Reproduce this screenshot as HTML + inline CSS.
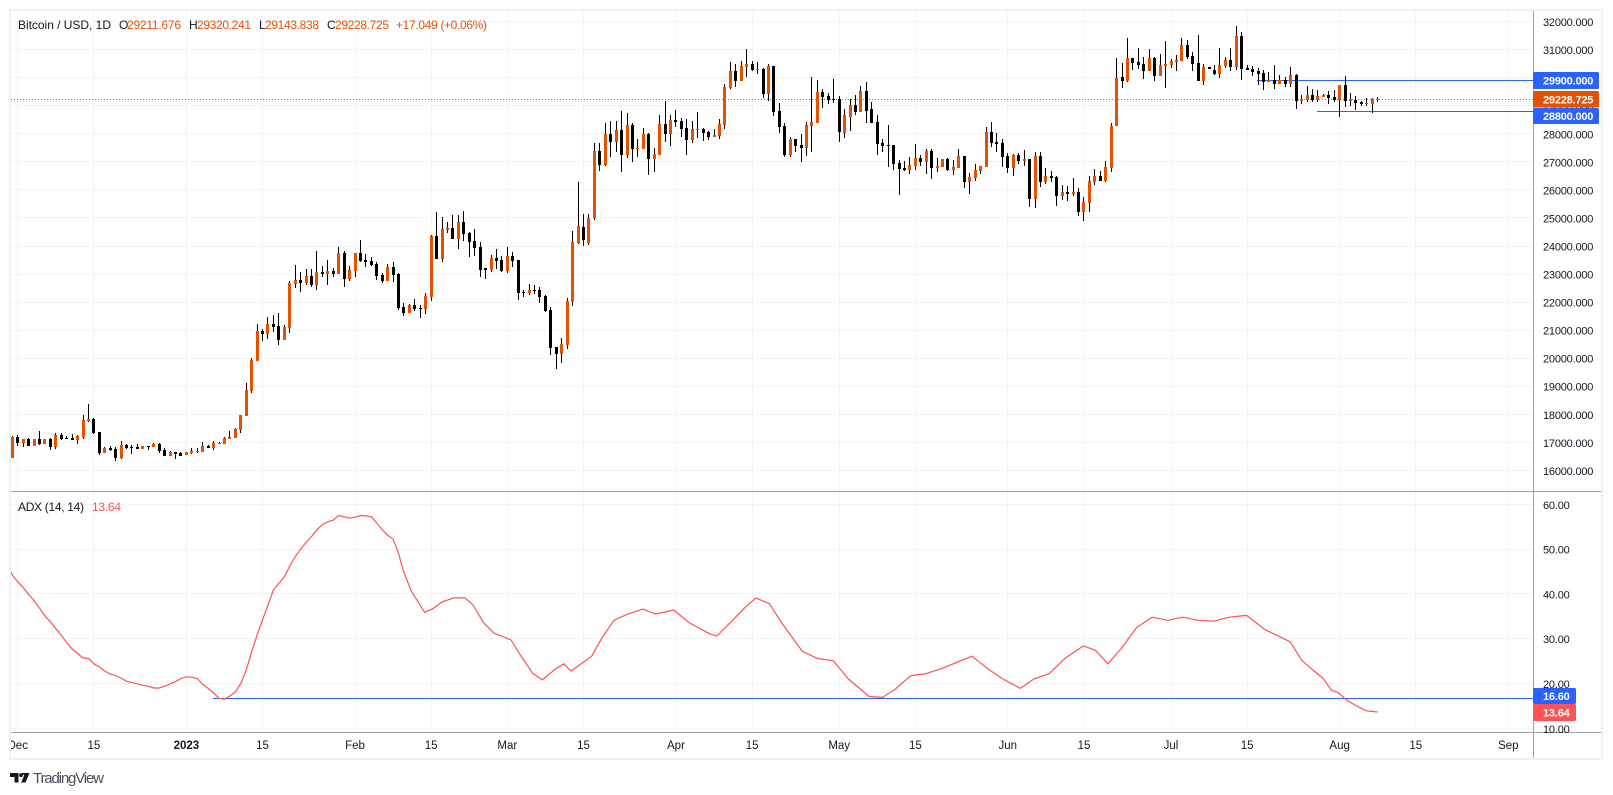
<!DOCTYPE html>
<html lang="en">
<head>
<meta charset="utf-8">
<title>Bitcoin / USD, 1D</title>
<style>
html,body{margin:0;padding:0;background:#fff;width:1613px;height:795px;overflow:hidden}
svg{display:block;font-family:"Liberation Sans",sans-serif}
</style>
</head>
<body>
<svg id="chart" width="1613" height="795" viewBox="0 0 1613 795" xmlns="http://www.w3.org/2000/svg">
  <defs>
    <clipPath id="plot-clip"><rect x="11" y="11" width="1522" height="480"></rect></clipPath>
    <clipPath id="adx-clip"><rect x="11" y="492" width="1522" height="240"></rect></clipPath>
    <clipPath id="time-clip"><rect x="11" y="733" width="1522" height="25"></rect></clipPath>
  </defs>
  <g id="grid"></g>
  <line id="last-line" x1="11" x2="1533" stroke="#e65100" stroke-width="1" stroke-dasharray="1 2"></line>
  <g id="levels"></g>
  <g id="candles" clip-path="url(#plot-clip)" shape-rendering="crispEdges"></g>
  <polyline id="adx-line" fill="none" stroke="#ff5252" stroke-width="1.2" stroke-linejoin="round" clip-path="url(#adx-clip)"></polyline>
  <g id="frame" shape-rendering="crispEdges">
    <rect x="9" y="9" width="1594" height="2" fill="#f0f1f6"></rect>
    <rect x="9" y="9" width="2" height="751" fill="#f0f1f6"></rect>
    <rect x="1601" y="9" width="2" height="751" fill="#f0f1f6"></rect>
    <rect x="9" y="758" width="1594" height="2" fill="#f0f1f6"></rect>
    <rect x="11" y="491" width="1590" height="1" fill="#a2a2a8"></rect>
    <rect x="11" y="732" width="1590" height="1" fill="#a2a2a8"></rect>
    <rect x="1533" y="11" width="1" height="747" fill="#a2a2a8"></rect>
  </g>
  <g id="price-axis" font-size="11" fill="#131722" letter-spacing="-0.2"></g>
  <g id="adx-axis" font-size="11" fill="#131722" letter-spacing="-0.2"></g>
  <g id="time-axis" font-size="11.5" fill="#131722" clip-path="url(#time-clip)" text-anchor="middle"></g>
  <g id="tags" font-size="11" font-weight="700" fill="#fff"></g>

  <g font-size="12" fill="#131722">
    <text x="18" y="29" textLength="93">Bitcoin / USD, 1D</text>
    <text x="119" y="29">O</text>
    <text x="127" y="29" fill="#e65100" textLength="54">29211.676</text>
    <text x="189" y="29">H</text>
    <text x="197" y="29" fill="#e65100" textLength="54">29320.241</text>
    <text x="259" y="29">L</text>
    <text x="265" y="29" fill="#e65100" textLength="54">29143.838</text>
    <text x="327" y="29">C</text>
    <text x="335" y="29" fill="#e65100" textLength="54">29228.725</text>
    <text x="396" y="29" fill="#e65100" textLength="91">+17.049 (+0.06%)</text>
  </g>
  <g font-size="12">
    <text x="18" y="511" fill="#131722" textLength="66">ADX (14, 14)</text>
    <text x="92" y="511" fill="#ff5252" textLength="29">13.64</text>
  </g>
  <g>
    <path fill="#131722" d="M10 773h8.500v9.500h-4v-5.500h-4.500zM21 773h8.500l-4 9.500h-4.300l3-7.200z"></path>
    <circle cx="21" cy="775.200" r="1.900" fill="#131722"></circle>
    <text x="33" y="783" font-size="15" fill="#4a4e59" textLength="71">TradingView</text>
  </g>
</svg>
<script>
const opens = [
16453,17180,16976,17120,16880,17120,16950,17120,16845,17262,
17155,17155,17083,17190,17762,17833,17369,16619,16797,16762,
16440,16905,16833,16833,16762,16869,16833,16940,16726,16512,
16655,16619,16548,16619,16643,16655,16869,16798,16940,16940,
17119,17155,17440,17940,18833,19904,20975,20868,21225,21154,
20654,21082,22652,22798,22690,22940,22619,23083,23012,23119,
23012,23762,22833,23119,23762,23512,23476,23369,22976,22762,
23262,23012,21833,21619,21905,21798,21762,22190,24369,23548,
24583,24655,24262,24869,24476,24190,23976,23226,23155,23583,
23512,23119,23655,23512,22369,22333,22441,22441,22226,21727,
20406,20156,20477,22012,24119,24690,24100,25001,27381,26881,
27988,27702,28131,27238,28309,27452,27452,27988,27095,27238,
28345,27988,28488,28452,28202,27774,28131,28166,28059,27881,
27917,28309,29631,30238,29881,30381,30488,30273,30309,29416,
30416,28809,28274,27238,27810,27595,27488,28274,28381,29488,
29345,29238,29238,28048,28619,29047,28797,29511,28869,28440,
27690,27619,27619,26976,26798,26727,26869,27155,27012,27405,
26798,26834,27119,26727,26798,27226,26298,26441,26691,26834,
28083,27726,27691,27226,26798,27262,27048,27119,25691,27226,
26298,26512,26477,25798,25941,25870,25941,25227,25548,26298,
26513,26335,26799,28263,30012,29869,30690,30547,30476,30226,
30690,30048,30405,30440,30547,30583,31155,30762,30512,29869,
30369,30262,30119,30405,30619,30369,31476,30333,30298,30226,
30155,29833,29905,29762,29905,29762,30083,29155,29190,29369,
29190,29298,29369,29298,29190,29726,29155,29190,29131,29060,
29060,29211.676
];
const closes = [
17190,16976,17120,16880,17120,16940,17120,16833,17262,17120,
17120,17083,17226,17797,17833,17333,16619,16797,16726,16440,
16905,16797,16797,16762,16869,16833,16940,16690,16512,16655,
16583,16512,16655,16690,16690,16869,16798,16976,16976,17155,
17190,17476,17976,18868,19940,20975,20868,21225,21118,20654,
21118,22688,22795,22690,22940,22619,23083,23012,23119,23012,
23762,22833,23155,23762,23476,23440,23333,22940,22762,23262,
22976,21798,21619,21905,21762,21762,22226,24369,23548,24619,
24655,24262,24869,24440,24155,23940,23155,23155,23583,23476,
23119,23655,23476,22333,22333,22441,22405,22190,21691,20370,
20156,20513,22048,24155,24725,24200,25013,27381,26881,27988,
27702,28131,27238,28309,27452,27488,27988,27095,27274,28345,
27988,28488,28416,28166,27774,28166,28166,28024,27881,27952,
28345,29666,30238,29881,30416,30488,30273,30309,29416,30416,
28773,28238,27238,27810,27560,27488,28309,28416,29488,29309,
29202,29190,28060,28655,29047,28797,29511,28833,28405,27655,
27583,27583,26941,26762,26727,26905,27155,27012,27405,26798,
26869,27119,26727,26834,27226,26298,26477,26727,26869,28083,
27691,27655,27191,26798,27262,27048,27119,25691,27226,26298,
26512,26441,25798,25941,25870,25941,25227,25584,26334,26512,
26335,26835,28298,30000,29869,30690,30512,30440,30226,30690,
30048,30440,30476,30583,30619,31155,30726,30476,29869,30369,
30298,30119,30440,30619,30369,31476,30298,30262,30190,30119,
29833,29905,29762,29905,29762,30083,29155,29226,29369,29190,
29334,29369,29262,29190,29726,29155,29226,29084,29060,29096,
29238,29228.725
];
const highs = [
17226,17250,17120,17155,17130,17405,17120,17155,17320,17320,
17214,17297,17250,17976,18368,17857,17369,16833,16869,16833,
17048,16940,16905,16940,16869,16869,16976,16976,16798,16690,
16655,16655,16655,16798,16798,17012,16905,17048,17012,17190,
17405,17512,17976,19118,20011,21225,21046,21474,21546,21618,
21190,22760,23331,23083,23190,23190,23833,23298,23512,23226,
23976,23833,23298,23762,24226,23726,23619,23440,23048,23369,
23440,23048,21976,21929,22119,21905,22333,24404,25226,25048,
24869,25119,25119,25262,24512,24619,24155,23226,23690,23904,
23655,23976,23797,23512,22441,22655,22619,22548,22262,21834,
20406,20727,22155,24547,26298,25156,25156,27667,27667,28381,
28452,28452,28809,28738,28381,27810,28202,28024,27488,28666,
29166,28666,28845,28559,28523,28452,28773,28202,28095,28166,
28523,29773,30559,30488,30595,31023,30595,30559,30344,30488,
30416,29095,28381,27881,27810,27988,28416,30023,29916,29595,
29452,29940,29345,28869,29261,29369,29690,29833,29154,28655,
27833,28333,27619,27083,27048,27191,27655,27262,27476,27476,
27155,27119,27155,27083,27476,27226,26620,26941,26869,28262,
28440,28048,27833,27333,27298,27333,27441,27119,27369,27369,
26798,26691,26512,26191,26155,26441,26084,25763,26512,26762,
26692,27049,28405,30690,30512,31404,30690,31047,30726,31012,
30726,30833,31297,30655,30797,31404,31333,30904,31511,30476,
30369,30440,31047,30726,31047,31833,31619,30440,30405,30333,
30262,30190,30440,30083,30012,30369,30119,29369,29691,29584,
29548,29405,29512,29548,29726,30048,29441,29334,29167,29274,
29274,29320.241
];
const lows = [
16453,16880,16845,16880,16880,16905,16950,16738,16774,17083,
17120,17083,16940,17119,17726,17297,16548,16619,16690,16333,
16405,16762,16583,16762,16762,16726,16833,16619,16512,16512,
16405,16512,16548,16583,16619,16655,16798,16726,16940,16940,
17119,17155,17333,17940,18761,19904,20618,20689,20940,20475,
20654,20904,22510,22369,22619,22548,22441,22905,22619,22905,
23012,22548,22762,22905,23440,23262,23298,22798,22690,22762,
22726,21726,21512,21619,21690,21441,21584,22048,23548,23440,
24476,24262,23905,24190,23619,23655,22905,22833,23083,23190,
23083,23048,23262,22084,22190,22262,22298,21976,21655,20120,
19620,19834,20334,21870,24085,24000,24050,24918,26667,26846,
27167,27345,26631,27131,26988,27167,27452,26524,26631,27238,
27702,27560,28238,27881,27238,27667,27845,27738,27774,27881,
27810,28166,29595,29666,29881,30024,30238,30130,29273,29166,
28631,28024,27167,27167,27345,26988,27202,27345,28381,28916,
29059,29095,27702,27869,28119,28690,28797,28405,28405,27262,
27369,26834,26727,25834,26691,26584,26727,26869,26584,26405,
26655,26834,26691,26548,26798,26084,25870,26334,26584,26834,
27548,27369,26834,26619,26512,26941,26869,25405,25370,26119,
26226,26298,25441,25655,25620,25798,25084,24906,25227,26191,
26335,26299,26656,28263,29619,29833,30262,30297,29940,30226,
29869,30048,29619,30333,30226,30583,30655,30226,29869,29726,
30298,30083,29976,30333,30226,30262,29905,30262,30048,29726,
29548,29833,29583,29762,29655,29655,28869,29048,29119,29119,
29119,29298,29048,29119,28619,28941,28976,28834,28988,28988,
28750,29143.838
];
const priceTicks = [32000,31000,30000,29000,28000,27000,26000,25000,24000,23000,22000,21000,20000,19000,18000,17000,16000];
const adxTicks = [60,50,40,30,20,10];
const timeLabels = ["Dec","15","2023","15","Feb","15","Mar","15","Apr","15","May","15","Jun","15","Jul","15","Aug","15","Sep"];
const timeDays = [1,15,32,46,63,77,91,105,122,136,152,166,183,197,213,227,244,258,275];
const adxDays = [
-0.4,0,1,2,3,4,5,6,7,8,9,10,11,12,13,14,15,16,17,18,19,20,21,22,23,24,25,26,27,28,29,30,31,32,33,34,35,36,37,38,39,40,41,42,43,44,45,46,47,48,49,50,51,52,53,54,55,56,57,58,59,60,61,62,63,64,65,66,67,68,69,70,71,
71.9,73.4,75.8,77.2,79,81.1,83.2,84.7,86.6,88.5,91.7,93.2,95.7,97.4,99.9,101.4,102.7,104.6,106.5,108.4,110.6,113.1,115.9,118.2,121.6,124.4,128.2,129.5,132,134.8,136.7,139.2,141.4,145.2,148,150.9,153.7,157.5,160,162.3,165.1,168,170.8,173.6,176.4,179.3,182.1,185.3,187.8,190.6,193.5,196.9,199.1,201.4,203.9,206.7,209.5,212.4,215.2,218,220.9,223.7,226.9,230.3,234.9,237,239.1,240.9,242.5,243.7,245.3,246.8,248.9,251
];
const adxValues = [
45.1,44.2,42.7,41.4,39.9,38.5,36.8,35.1,33.8,32.2,30.8,29.1,27.7,26.7,25.7,25.6,24.4,23.7,22.8,22.1,21.8,21.2,20.5,20.2,19.9,19.6,19.4,19.0,19.0,19.4,19.9,20.4,21.1,21.5,21.4,21.1,19.8,18.9,17.9,16.7,16.5,17.2,18.1,20.0,23.0,27.1,30.8,34.2,37.5,40.9,42.4,43.8,46.2,48.3,50.0,51.5,52.8,54.3,55.5,56.1,56.5,57.5,57.2,56.9,57.1,57.5,57.4,57.2,55.8,54.3,53.1,52.2,49.1,
45.1,40.5,35.9,36.6,38.2,39.1,39.1,37.5,33.6,31.3,29.7,26.7,22.2,20.8,23.3,24.4,22.8,24.4,26.1,30.2,34.1,35.5,36.6,35.5,36.4,33.6,31.1,30.6,33.6,37.1,39.1,37.8,33.6,27.2,25.6,25.1,21,17.1,16.9,18.7,21.7,22.2,23.3,24.7,26.1,23.3,21,18.9,21,22.2,25.6,28.4,27.4,24.4,27.9,32.5,34.8,34.1,34.8,34.1,33.9,34.8,35.2,32,29.3,25.2,23,21.2,18.5,18,16.3,15.2,13.9,13.64
];
const lastClose = 29228.725;
const resistanceLevel = 29900;
const supportLevel = 28800;
const adxLevel = 16.6;
const adxLast = 13.64;

const SVGNS = 'http://www.w3.org/2000/svg';
function xOf(day) { return 12.3 + 5.44 * day; }
function yPrice(p) { return 442.3 - (p - 17000) * 0.02804; }
function yAdx(v) { return 728.3 - (v - 10) * 4.48; }
function mk(tag, parent, attrs) {
  const el = document.createElementNS(SVGNS, tag);
  for (const k in attrs) el.setAttribute(k, attrs[k]);
  parent.appendChild(el);
  return el;
}
const UP = '#e65100', DOWN = '#000000', GRID = '#f3f4f6', BLUE = '#2962ff';

const grid = document.getElementById('grid');
grid.setAttribute('shape-rendering', 'crispEdges');
priceTicks.forEach(function (p) {
  const y = Math.floor(yPrice(p));
  const l = mk('rect', grid, {x: 11, y: y, width: 1522, height: 1, fill: GRID});
  
  
});
adxTicks.forEach(function (v) {
  const y = Math.floor(yAdx(v));
  const l = mk('rect', grid, {x: 11, y: y, width: 1522, height: 1, fill: GRID});
  
  
});
timeDays.forEach(function (d) {
  const x = Math.floor(xOf(d));
  const l = mk('rect', grid, {x: x, y: 11, width: 1, height: 721, fill: GRID});
  
  
});

const lastLine = document.getElementById('last-line');
lastLine.setAttribute('y1', Math.floor(yPrice(lastClose)) + 0.5);
lastLine.setAttribute('y2', Math.floor(yPrice(lastClose)) + 0.5);

const candles = document.getElementById('candles');
opens.forEach(function (o, i) {
  const c = closes[i];
  const col = c >= o ? UP : DOWN;
  const px = Math.floor(xOf(i));
  const g = mk('g', candles, {});
  
  
  const yH = Math.round(yPrice(highs[i]));
  const yL = Math.round(yPrice(lows[i]));
  const w = mk('rect', g, {x: px, y: yH, width: 1, height: Math.max(1, yL - yH), fill: DOWN});
  
  
  const yT = Math.round(yPrice(Math.max(o, c)));
  const yB = Math.round(yPrice(Math.min(o, c)));
  const b = mk('rect', g, {x: px - 1, y: yT, width: 3, height: Math.max(1, yB - yT), fill: col});
  
  
});

const levels = document.getElementById('levels');
levels.setAttribute('shape-rendering', 'crispEdges');
const lvl1 = mk('rect', levels, {x: 1257, y: Math.floor(yPrice(resistanceLevel)), width: 276, height: 1, fill: BLUE});


const lvl2 = mk('rect', levels, {x: 1317, y: Math.floor(yPrice(supportLevel)), width: 216, height: 1, fill: BLUE});


const lvl3 = mk('rect', levels, {x: 213, y: Math.floor(yAdx(adxLevel)), width: 1320, height: 1, fill: BLUE});



const adxLine = document.getElementById('adx-line');
adxLine.setAttribute('points', adxValues.map(function (v, i) {
  return xOf(adxDays[i]).toFixed(1) + ',' + yAdx(v).toFixed(1);
}).join(' '));

const priceAxis = document.getElementById('price-axis');
priceTicks.forEach(function (p) {
  const t = mk('text', priceAxis, {x: 1543, y: yPrice(p) + 4.5});
  
  
  t.textContent = p.toFixed(3);
});
const adxAxis = document.getElementById('adx-axis');
adxTicks.forEach(function (v) {
  const t = mk('text', adxAxis, {x: 1543, y: yAdx(v) + 4.5});
  
  
  t.textContent = v.toFixed(2);
});
const timeAxis = document.getElementById('time-axis');
timeLabels.forEach(function (lab, i) {
  const t = mk('text', timeAxis, {x: xOf(timeDays[i]), y: 749});
  
  
  if (lab === '2023') t.setAttribute('font-weight', '700');
  t.textContent = lab;
});

const tags = document.getElementById('tags');
function tag(name, yTop, h, w, fill, label) {
  const g = mk('g', tags, {});
  
  
  mk('rect', g, {x: 1533, y: yTop, width: w, height: h, rx: 1.5, fill: fill});
  const t = mk('text', g, {x: 1543, y: yTop + h / 2 + 4, 'letter-spacing': '-0.2'});
  t.textContent = label;
}
tag('resistance-price-tag', 72, 17, 66, BLUE, resistanceLevel.toFixed(3));
tag('support-price-tag', 108, 16, 66, BLUE, supportLevel.toFixed(3));
tag('last-price-tag', 91, 16.5, 66, UP, lastClose.toFixed(3));
tag('adx-level-tag', 688, 16, 43, BLUE, adxLevel.toFixed(2));
tag('adx-value-tag', 704, 17, 43, '#ff5252', adxLast.toFixed(2));
</script>
</body>
</html>
